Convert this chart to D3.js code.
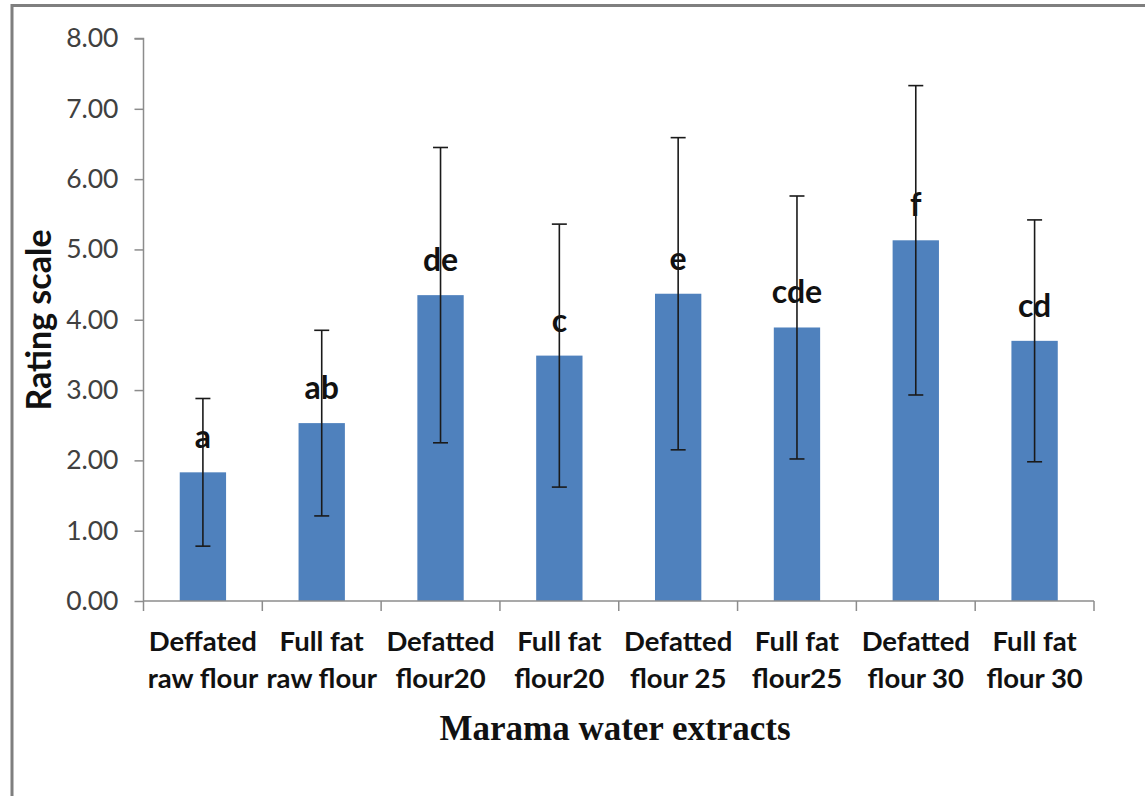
<!DOCTYPE html>
<html>
<head>
<meta charset="utf-8">
<script src="https://cdn.jsdelivr.net/npm/d3@7"></script>
<style>
  body { margin: 0; background: #fff; }
  svg { display: block; }
</style>
</head>
<body>
<svg></svg>
<script>
// chart values
const categories = [
  ["Deffated", "raw flour"],
  ["Full fat", "raw flour"],
  ["Defatted", "flour20"],
  ["Full fat", "flour20"],
  ["Defatted", "flour 25"],
  ["Full fat", "flour25"],
  ["Defatted", "flour 30"],
  ["Full fat", "flour 30"],
];
const means = [1.83, 2.53, 4.35, 3.49, 4.37, 3.89, 5.13, 3.70];
const sds = [1.05, 1.32, 2.10, 1.87, 2.22, 1.87, 2.20, 1.72];
const letters = ["a", "ab", "de", "c", "e", "cde", "f", "cd"];
const yTicks = [0, 1, 2, 3, 4, 5, 6, 7, 8];

const width = 1145;
const height = 796;
const plotLeft = 143.5;
const plotRight = 1094;
const plotTop = 38.5;
const plotBottom = 601;
const svg = d3.select("svg");

const drawCanvas = () => {
  svg.attr("width", width).attr("height", height);
  // frame of the original figure (only top and left edges are visible)
  svg.append("line")
    .attr("x1", 12).attr("x2", width).attr("y1", 5.5).attr("y2", 5.5)
    .attr("stroke", "#7f7f7f").attr("stroke-width", 3);
  svg.append("line")
    .attr("x1", 12).attr("x2", 12).attr("y1", 4).attr("y2", height)
    .attr("stroke", "#7f7f7f").attr("stroke-width", 3);
};

const ids = d3.range(categories.length);
const xScale = d3.scaleBand().domain(ids).range([plotLeft, plotRight]).padding(0);
const yScale = d3.scaleLinear().domain([0, 8]).range([plotBottom, plotTop]);
const barWidth = xScale.bandwidth() * 0.39;
const cx = (i) => xScale(i) + xScale.bandwidth() / 2;

const drawAxes = () => {
  const yAxis = d3.axisLeft(yScale)
    .tickValues(yTicks)
    .tickFormat(d3.format(".2f"))
    .tickSize(9)
    .tickPadding(16);

  const gy = svg.append("g")
    .attr("transform", "translate(" + plotLeft + ",0)")
    .call(yAxis);
  gy.select(".domain").attr("stroke", "#8c8c8c").attr("stroke-width", 1.5)
    .attr("d", "M-9," + plotTop + "H0V" + plotBottom);
  gy.selectAll(".tick line").attr("stroke", "#8c8c8c").attr("stroke-width", 1.5);
  gy.selectAll(".tick text")
    .attr("fill", "#404040")
    .style("font-family", "Lato, 'Noto Sans', sans-serif")
    .style("font-size", "26.5px");

  // category axis: line with ticks at the band edges
  const gx = svg.append("g");
  gx.append("line")
    .attr("x1", plotLeft).attr("x2", plotRight)
    .attr("y1", plotBottom).attr("y2", plotBottom)
    .attr("stroke", "#8c8c8c").attr("stroke-width", 1.5);
  const edges = ids.map((i) => xScale(i)).concat([plotRight]);
  gx.selectAll(".edge")
    .data(edges)
    .enter()
    .append("line")
    .attr("x1", (d) => d).attr("x2", (d) => d)
    .attr("y1", plotBottom).attr("y2", plotBottom + 10)
    .attr("stroke", "#8c8c8c").attr("stroke-width", 1.5);

  const labels = gx.selectAll(".cat")
    .data(categories)
    .enter()
    .append("text")
    .attr("text-anchor", "middle")
    .attr("fill", "#111")
    .style("font-family", "Lato, 'Noto Sans', sans-serif")
    .style("font-weight", "bold")
    .style("font-size", "27.5px");
  labels.append("tspan")
    .attr("x", (d, i) => cx(i))
    .attr("y", 651)
    .text((d) => d[0]);
  labels.append("tspan")
    .attr("x", (d, i) => cx(i))
    .attr("y", 688)
    .text((d) => d[1]);

  svg.append("text")
    .attr("x", 615)
    .attr("y", 740)
    .attr("text-anchor", "middle")
    .attr("fill", "#111")
    .style("font-family", "'Liberation Serif', 'Times New Roman', serif")
    .style("font-weight", "bold")
    .style("font-size", "35px")
    .text("Marama water extracts");

  svg.append("text")
    .attr("transform", "translate(51,320) rotate(-90)")
    .attr("text-anchor", "middle")
    .attr("fill", "#111")
    .style("font-family", "Lato, 'Noto Sans', sans-serif")
    .style("font-weight", "bold")
    .style("font-size", "34px")
    .text("Rating scale");
};

const drawBars = () => {
  svg.selectAll(".bar")
    .data(means)
    .enter()
    .append("rect")
    .attr("class", "bar")
    .attr("x", (d, i) => cx(i) - barWidth / 2)
    .attr("width", barWidth)
    .attr("y", (d) => yScale(d))
    .attr("height", (d) => plotBottom - yScale(d))
    .attr("fill", "#4f81bd");

  // significance letters sit under the error bars
  svg.selectAll(".letter")
    .data(letters)
    .enter()
    .append("text")
    .attr("class", "letter")
    .attr("x", (d, i) => cx(i))
    .attr("y", (d, i) => yScale(means[i]) - 24)
    .attr("text-anchor", "middle")
    .attr("fill", "#111")
    .style("font-family", "Lato, 'Noto Sans', sans-serif")
    .style("font-weight", "bold")
    .style("font-size", "32px")
    .text((d) => d);

  // error bars (mean +/- sd)
  const err = svg.append("g")
    .attr("stroke", "#1a1a1a")
    .attr("stroke-width", 1.6);
  means.forEach((m, i) => {
    const hi = yScale(m + sds[i]);
    const lo = yScale(m - sds[i]);
    err.append("line").attr("x1", cx(i)).attr("x2", cx(i)).attr("y1", hi).attr("y2", lo);
    err.append("line").attr("x1", cx(i) - 7.5).attr("x2", cx(i) + 7.5).attr("y1", hi).attr("y2", hi);
    err.append("line").attr("x1", cx(i) - 7.5).attr("x2", cx(i) + 7.5).attr("y1", lo).attr("y2", lo);
  });
};

drawCanvas();
drawBars();
drawAxes();
</script>
</body>
</html>
